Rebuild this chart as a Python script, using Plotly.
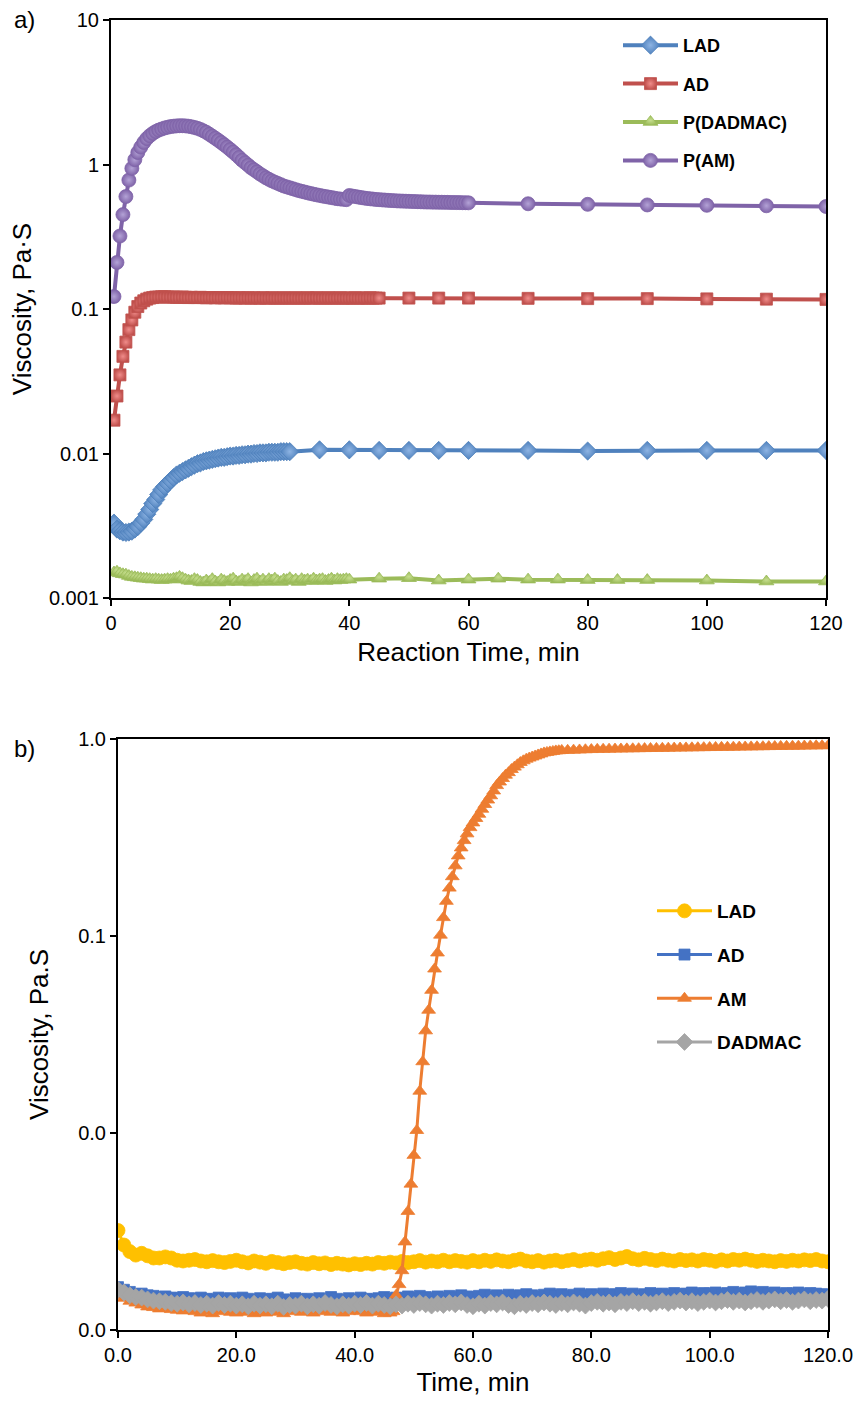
import plotly.graph_objects as go

# ---------------- Panel a) data ----------------
am_a_t = [0.5 * i for i in range(1, 121)] + [70, 80, 90, 100, 110, 120]
am_a_v = [0.122, 0.21, 0.32, 0.45, 0.60, 0.78, 0.94, 1.08, 1.21, 1.32,
          1.42, 1.51, 1.58, 1.64, 1.69, 1.73, 1.76, 1.79, 1.81, 1.83,
          1.84, 1.85, 1.855, 1.855, 1.85, 1.84, 1.825, 1.805, 1.78, 1.75,
          1.71, 1.67, 1.62, 1.57, 1.52, 1.47, 1.42, 1.37, 1.32, 1.27,
          1.22, 1.17, 1.12, 1.07, 1.03, 0.99, 0.95, 0.92, 0.89, 0.86,
          0.835, 0.81, 0.79, 0.77, 0.755, 0.74, 0.725, 0.71, 0.70, 0.69,
          0.68, 0.67, 0.66, 0.652, 0.645, 0.637, 0.63, 0.623, 0.617, 0.611,
          0.605, 0.60, 0.595, 0.59, 0.585, 0.58, 0.577, 0.574, 0.571, 0.61,
          0.605, 0.60, 0.595, 0.59, 0.586, 0.582, 0.579, 0.576, 0.573, 0.571,
          0.569, 0.567, 0.565, 0.563, 0.562, 0.56, 0.559, 0.558, 0.557, 0.556,
          0.555, 0.554, 0.553, 0.552, 0.551, 0.55, 0.55, 0.549, 0.549, 0.548,
          0.548, 0.547, 0.547, 0.546, 0.546, 0.545, 0.545, 0.544, 0.544, 0.543,
          0.535, 0.53, 0.525, 0.522, 0.518, 0.512]

lad_a_t = [0.5 * i for i in range(1, 61)] + [35, 40, 45, 50, 55, 60, 70, 80, 90, 100, 110, 120]
lad_a_v = [0.0033, 0.0030, 0.00292, 0.00286, 0.00284, 0.00286, 0.0029, 0.0030, 0.00312,
           0.0033, 0.0035, 0.0038, 0.0041, 0.0045, 0.0048, 0.0052, 0.0056, 0.0059, 0.0062,
           0.0065, 0.0068, 0.0071, 0.0073, 0.0075, 0.0077, 0.0079, 0.0081, 0.0083, 0.0085,
           0.0086, 0.0088, 0.0089, 0.0090, 0.0091, 0.0092, 0.0093, 0.0094, 0.0094, 0.0095,
           0.0096, 0.0096, 0.0097, 0.0097, 0.0098, 0.0098, 0.0099, 0.0099, 0.0100, 0.0100,
           0.0101, 0.0101, 0.0101, 0.0102, 0.0102, 0.0102, 0.0102, 0.0103, 0.0103, 0.0103,
           0.0103,
           0.0106, 0.0106, 0.0105, 0.0105, 0.0105, 0.0105, 0.0105, 0.0104, 0.0105, 0.0105,
           0.0105, 0.0105]

ad_a_t = [0.5 * i for i in range(1, 91)] + [50, 55, 60, 70, 80, 90, 100, 110, 120]
ad_a_v = [0.017, 0.025, 0.035, 0.047, 0.059, 0.072, 0.084, 0.095, 0.104, 0.110,
          0.114, 0.117, 0.119, 0.120, 0.121, 0.121, 0.1215, 0.1215, 0.121, 0.121,
          0.121, 0.1205, 0.1205, 0.121, 0.1205, 0.120, 0.1205, 0.120, 0.120, 0.1205,
          0.120, 0.1195, 0.120, 0.120, 0.1195, 0.120, 0.1195, 0.1195, 0.120, 0.1195,
          0.1195, 0.119, 0.1195, 0.1195, 0.119, 0.1195, 0.119, 0.1195, 0.119, 0.119,
          0.1195, 0.119, 0.119, 0.1195, 0.119, 0.119, 0.119, 0.1195, 0.119, 0.119,
          0.119, 0.1195, 0.119, 0.119, 0.119, 0.1195, 0.119, 0.119, 0.1195, 0.119,
          0.119, 0.119, 0.1195, 0.119, 0.119, 0.119, 0.1195, 0.119, 0.119, 0.119,
          0.119, 0.1195, 0.119, 0.119, 0.119, 0.119, 0.1195, 0.119, 0.119, 0.119,
          0.119, 0.119, 0.119, 0.1185, 0.118, 0.118, 0.1175, 0.117, 0.1165]

dad_a_t = [0.5 * i for i in range(1, 81)] + [45, 50, 55, 60, 65, 70, 75, 80, 85, 90, 100, 110, 120]
dad_a_v = [0.00150, 0.00152, 0.00148, 0.00146, 0.00145, 0.00142, 0.00140, 0.00139, 0.00138, 0.00137,
           0.00136, 0.00136, 0.00135, 0.00134, 0.00135, 0.00134, 0.00133, 0.00134, 0.00135, 0.00134,
           0.00136, 0.00137, 0.00140, 0.00137, 0.00134, 0.00132, 0.00131, 0.00135, 0.00133, 0.00129,
           0.00128, 0.00132, 0.00129, 0.00135, 0.00130, 0.00128, 0.00134, 0.00131, 0.00129, 0.00133,
           0.00136, 0.00130, 0.00129, 0.00134, 0.00131, 0.00135, 0.00128, 0.00133, 0.00136, 0.00130,
           0.00134, 0.00129, 0.00135, 0.00132, 0.00136, 0.00131, 0.00129, 0.00134, 0.00133, 0.00137,
           0.00131, 0.00134, 0.00129, 0.00135, 0.00132, 0.00134, 0.00131, 0.00136, 0.00132, 0.00134,
           0.00135, 0.00131, 0.00133, 0.00136, 0.00132, 0.00135, 0.00133, 0.00134, 0.00135, 0.00134,
           0.00136, 0.00137, 0.00132, 0.00134, 0.00136, 0.00134, 0.00134, 0.00133, 0.00133, 0.00133,
           0.00132, 0.00130, 0.00130]

# ---------------- Panel b) data ----------------
t_b = list(range(0, 121))
lad_b_v = [0.0032, 0.0027, 0.0025, 0.0024, 0.00245, 0.00238, 0.00232, 0.00232, 0.00235, 0.00232,
           0.00226, 0.00224, 0.00226, 0.00228, 0.00224, 0.00222, 0.00225, 0.00222, 0.00220, 0.00223,
           0.00226, 0.00222, 0.00219, 0.00224, 0.00221, 0.00218, 0.00223, 0.00220, 0.00217, 0.00220,
           0.00222, 0.00218, 0.00216, 0.00220, 0.00217, 0.00219, 0.00215, 0.00218, 0.00216, 0.00214,
           0.00217, 0.00215, 0.00218, 0.00216, 0.00220, 0.00218, 0.00221, 0.00219, 0.00223, 0.00220,
           0.00222, 0.00225, 0.00221, 0.00224, 0.00222, 0.00226, 0.00222, 0.00225, 0.00223, 0.00221,
           0.00225, 0.00222, 0.00226, 0.00223, 0.00227, 0.00224, 0.00222, 0.00226, 0.00229, 0.00224,
           0.00222, 0.00225, 0.00221, 0.00224, 0.00226, 0.00222, 0.00225, 0.00228, 0.00224, 0.00227,
           0.00229, 0.00226, 0.00230, 0.00233, 0.00228, 0.00232, 0.00236, 0.00230, 0.00227, 0.00231,
           0.00228, 0.00225, 0.00229, 0.00226, 0.00224, 0.00228, 0.00225, 0.00227, 0.00224, 0.00228,
           0.00226, 0.00223, 0.00227, 0.00224, 0.00228, 0.00226, 0.00229, 0.00226, 0.00223, 0.00226,
           0.00224, 0.00222, 0.00225, 0.00223, 0.00226, 0.00224, 0.00227, 0.00225, 0.00228, 0.00224,
           0.00222]
ad_b_v = [0.00165, 0.00160, 0.00156, 0.00152, 0.00153, 0.00150, 0.00149, 0.00147, 0.00148, 0.00146,
          0.00145, 0.00147, 0.00145, 0.00144, 0.00146, 0.00144, 0.00143, 0.00146, 0.00144, 0.00145,
          0.00143, 0.00146, 0.00144, 0.00142, 0.00145, 0.00143, 0.00144, 0.00146, 0.00143, 0.00142,
          0.00145, 0.00143, 0.00144, 0.00142, 0.00145, 0.00143, 0.00147, 0.00144, 0.00142, 0.00145,
          0.00143, 0.00146, 0.00144, 0.00143, 0.00145, 0.00147, 0.00144, 0.00146, 0.00145, 0.00148,
          0.00146, 0.00149, 0.00147, 0.00145, 0.00148, 0.00146, 0.00149, 0.00147, 0.00150, 0.00148,
          0.00147, 0.00149, 0.00151, 0.00148, 0.00150, 0.00148, 0.00151, 0.00149, 0.00150, 0.00152,
          0.00150, 0.00148, 0.00151, 0.00153, 0.00150, 0.00152, 0.00149, 0.00151, 0.00153, 0.00150,
          0.00152, 0.00150, 0.00153, 0.00151, 0.00152, 0.00154, 0.00151, 0.00153, 0.00150, 0.00152,
          0.00154, 0.00152, 0.00153, 0.00151, 0.00154, 0.00152, 0.00153, 0.00155, 0.00152, 0.00154,
          0.00153, 0.00155, 0.00152, 0.00154, 0.00156, 0.00153, 0.00155, 0.00157, 0.00154, 0.00156,
          0.00153, 0.00155, 0.00152, 0.00154, 0.00153, 0.00155, 0.00152, 0.00154, 0.00153, 0.00152,
          0.00151]
dad_b_v = [0.00160, 0.00155, 0.00150, 0.00147, 0.00146, 0.00143, 0.00141, 0.00140, 0.00139, 0.00137,
           0.00136, 0.00138, 0.00135, 0.00137, 0.00134, 0.00136, 0.00133, 0.00137, 0.00134, 0.00136,
           0.00133, 0.00135, 0.00132, 0.00136, 0.00133, 0.00135, 0.00132, 0.00136, 0.00131, 0.00134,
           0.00133, 0.00136, 0.00132, 0.00135, 0.00133, 0.00137, 0.00134, 0.00132, 0.00135, 0.00133,
           0.00136, 0.00134, 0.00137, 0.00133, 0.00136, 0.00134, 0.00132, 0.00135, 0.00133, 0.00136,
           0.00134, 0.00137, 0.00135, 0.00133, 0.00136, 0.00134, 0.00137, 0.00135, 0.00138, 0.00134,
           0.00132, 0.00136, 0.00133, 0.00137, 0.00135, 0.00138, 0.00134, 0.00132, 0.00136, 0.00134,
           0.00137, 0.00135, 0.00138, 0.00136, 0.00134, 0.00137, 0.00135, 0.00138, 0.00136, 0.00133,
           0.00137, 0.00139, 0.00136, 0.00138, 0.00135, 0.00139, 0.00137, 0.00140, 0.00137, 0.00139,
           0.00136, 0.00138, 0.00140, 0.00137, 0.00139, 0.00141, 0.00138, 0.00140, 0.00137, 0.00139,
           0.00141, 0.00138, 0.00140, 0.00142, 0.00139, 0.00141, 0.00138, 0.00140, 0.00142, 0.00139,
           0.00141, 0.00143, 0.00140, 0.00142, 0.00139, 0.00141, 0.00143, 0.00140, 0.00142, 0.00141,
           0.00144]
am_b_t = list(range(0, 47)) + [46.5 + 0.5 * i for i in range(58)] + list(range(76, 121))
am_b_v = [0.00150, 0.00145, 0.00140, 0.00137, 0.00134, 0.00131, 0.00130, 0.00128, 0.00129, 0.00127,
          0.00126, 0.00125, 0.00127, 0.00124, 0.00122, 0.00125, 0.00121, 0.00124, 0.00126, 0.00123,
          0.00122, 0.00125, 0.00123, 0.00121, 0.00124, 0.00122, 0.00125, 0.00123, 0.00121, 0.00124,
          0.00126, 0.00123, 0.00125, 0.00122, 0.00124, 0.00126, 0.00123, 0.00125, 0.00122, 0.00124,
          0.00126, 0.00124, 0.00122, 0.00125, 0.00123, 0.00121, 0.00122,
          0.00124, 0.0015, 0.0017, 0.0020, 0.0028, 0.0040, 0.0055, 0.0077, 0.0103, 0.0163,
          0.023, 0.033, 0.042, 0.053, 0.068, 0.082, 0.101, 0.124, 0.150, 0.175,
          0.200, 0.227, 0.255, 0.28, 0.305, 0.33, 0.355, 0.375, 0.395, 0.415,
          0.44, 0.465, 0.49, 0.515, 0.545, 0.58, 0.605, 0.63, 0.655, 0.675,
          0.70, 0.72, 0.74, 0.76, 0.775, 0.79, 0.80, 0.81, 0.82, 0.83,
          0.84, 0.85, 0.855, 0.86, 0.865, 0.87, 0.872, 0.875,
          0.876, 0.878, 0.880, 0.882, 0.884, 0.886, 0.887, 0.888, 0.889, 0.890,
          0.891, 0.892, 0.893, 0.894, 0.895, 0.896, 0.897, 0.898, 0.899, 0.900,
          0.901, 0.902, 0.903, 0.904, 0.905, 0.906, 0.907, 0.908, 0.909, 0.910,
          0.911, 0.912, 0.913, 0.914, 0.915, 0.916, 0.917, 0.918, 0.919, 0.920,
          0.921, 0.922, 0.923, 0.924, 0.925]

FONT = "Liberation Sans, Arial, sans-serif"

fig = go.Figure()

def add(x, y, name, color, light, symbol, size, lw, xa, ya, leg, group):
    fig.add_trace(go.Scatter(
        x=x, y=y, name=name, mode="lines+markers",
        line=dict(color=color, width=lw),
        marker=dict(symbol=symbol, size=size, color=color,
                    gradient=dict(type="radial", color=light) if light else None,
                    line=dict(color=color, width=0.8)),
        xaxis=xa, yaxis=ya, legend=leg, legendgroup=group))

# panel a
add(lad_a_t, lad_a_v, "LAD", "#4F81BD", "#8EB4E3", "diamond", 14, 4, "x", "y", "legend", "a1")
add(ad_a_t, ad_a_v, "AD", "#C0504D", "#F08C8A", "square", 12, 4, "x", "y", "legend", "a2")
add(dad_a_t, dad_a_v, "P(DADMAC)", "#9BBB59", "#C6DE8E", "triangle-up", 13, 4, "x", "y", "legend", "a3")
add(am_a_t, am_a_v, "P(AM)", "#7F63A8", "#B3A2D6", "circle", 14, 4, "x", "y", "legend", "a4")

# panel b
add(t_b, lad_b_v, "LAD", "#FFC000", None, "circle", 14, 3, "x2", "y2", "legend2", "b1")
add(t_b, ad_b_v, "AD", "#4472C4", None, "square", 11, 3, "x2", "y2", "legend2", "b2")
add(am_b_t, am_b_v, "AM", "#ED7D31", None, "triangle-up", 12, 3, "x2", "y2", "legend2", "b3")
add(t_b, dad_b_v, "DADMAC", "#A5A5A5", None, "diamond", 13, 3, "x2", "y2", "legend2", "b4")

W, H = 856, 1405
def px_x(a, b):
    return [a / W, b / W]
def px_y(top, bot):
    return [(H - bot) / H, (H - top) / H]

axis_common = dict(showline=True, linecolor="black", linewidth=2, mirror=True,
                   ticks="outside", ticklen=6, tickwidth=1.5, tickcolor="black",
                   showgrid=False, zeroline=False, automargin=False,
                   tickfont=dict(family=FONT, size=20, color="black"))

fig.update_layout(
    width=W, height=H, margin=dict(l=0, r=0, t=0, b=0),
    paper_bgcolor="white", plot_bgcolor="white",
    font=dict(family=FONT, color="black"),
    xaxis=dict(domain=px_x(111, 826), range=[0, 120], tickvals=[0, 20, 40, 60, 80, 100, 120],
               anchor="y",
               title=dict(text="Reaction Time, min", font=dict(size=26), standoff=10), **axis_common),
    yaxis=dict(domain=px_y(20, 598), type="log", range=[-3, 1], anchor="x",
               tickvals=[0.001, 0.01, 0.1, 1, 10], ticktext=["0.001", "0.01", "0.1", "1", "10"],
               title=dict(text="Viscosity, Pa·S", font=dict(size=26), standoff=10), **axis_common),
    xaxis2=dict(domain=px_x(118, 828), range=[0, 120], anchor="y2",
                tickvals=[0, 20, 40, 60, 80, 100, 120],
                ticktext=["0.0", "20.0", "40.0", "60.0", "80.0", "100.0", "120.0"],
                title=dict(text="Time, min", font=dict(size=26), standoff=8), **axis_common),
    yaxis2=dict(domain=px_y(739, 1330), type="log", range=[-3, 0], anchor="x2",
                tickvals=[0.001, 0.01, 0.1, 1], ticktext=["0.0", "0.0", "0.1", "1.0"],
                title=dict(text="Viscosity, Pa.S", font=dict(size=26), standoff=22), **axis_common),
    legend=dict(x=618 / W, y=(H - 27) / H, xanchor="left", yanchor="top",
                bgcolor="rgba(0,0,0,0)", tracegroupgap=12, traceorder="grouped",
                itemwidth=55,
                font=dict(family=FONT, size=18, color="black", weight="bold")),
    legend2=dict(x=652 / W, y=(H - 892) / H, xanchor="left", yanchor="top",
                 bgcolor="rgba(0,0,0,0)", tracegroupgap=16, traceorder="grouped",
                 itemwidth=55,
                 font=dict(family=FONT, size=19, color="black", weight="bold")),
    annotations=[
        dict(text="a)", x=12 / W, y=(H - 20) / H, xref="paper", yref="paper",
             xanchor="left", yanchor="middle", showarrow=False,
             font=dict(family=FONT, size=24, color="black")),
        dict(text="b)", x=12 / W, y=(H - 748) / H, xref="paper", yref="paper",
             xanchor="left", yanchor="middle", showarrow=False,
             font=dict(family=FONT, size=24, color="black")),
    ],
)

fig.write_html("out.html")
